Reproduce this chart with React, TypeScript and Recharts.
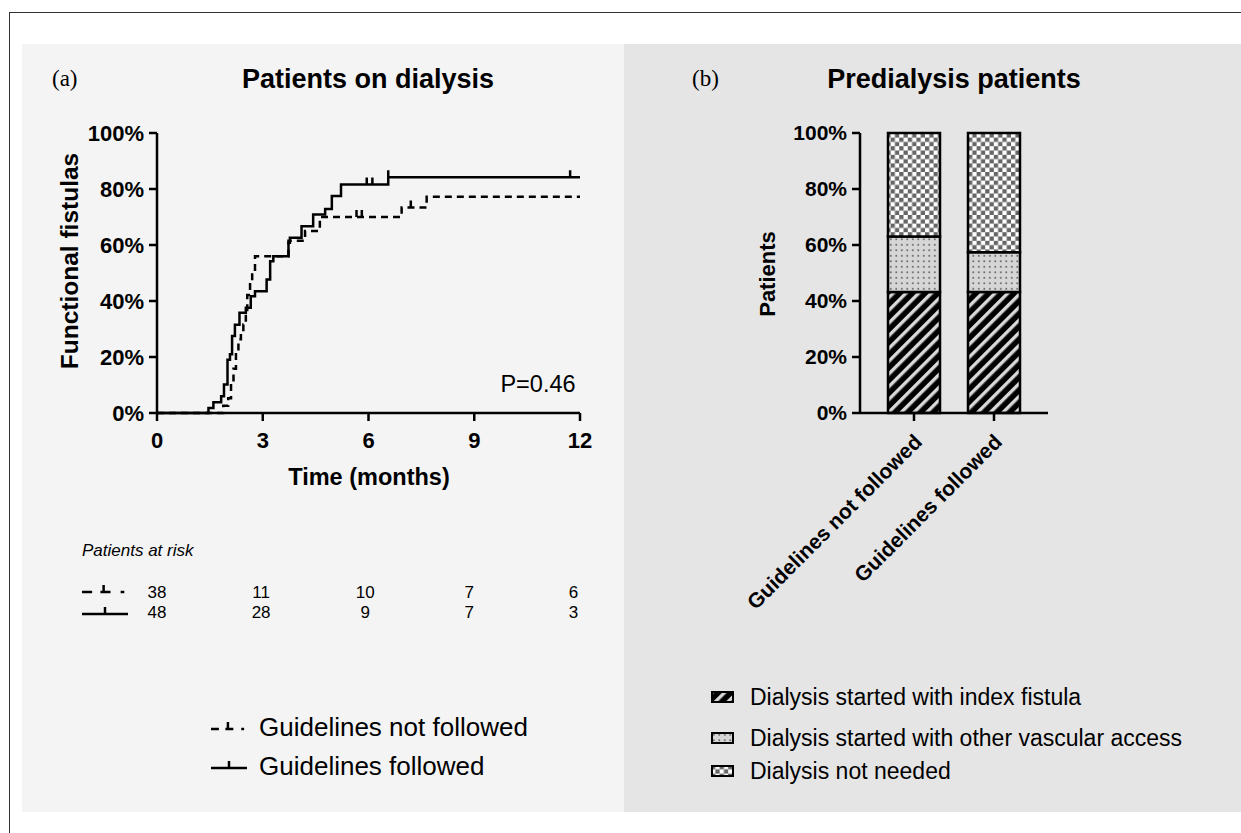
import { LineChart, Line, XAxis, YAxis, BarChart, Bar } from "recharts";

const SANS = '"Liberation Sans", Arial, Helvetica, sans-serif';
const SERIF = '"Liberation Serif", "Times New Roman", serif';

// panel (a): Kaplan-Meier steps (t = months, s = % functional, c = censored)
const followed = [
  { t: 0, s: 0 },
  { t: 1.46, s: 1.8 },
  { t: 1.6, s: 3.8 },
  { t: 1.82, s: 6 },
  { t: 1.9, s: 10.2 },
  { t: 2.0, s: 19 },
  { t: 2.07, s: 21 },
  { t: 2.13, s: 27.5 },
  { t: 2.21, s: 31.5 },
  { t: 2.34, s: 35.8 },
  { t: 2.52, s: 37.6 },
  { t: 2.66, s: 41.7 },
  { t: 2.78, s: 43.5 },
  { t: 3.11, s: 47.7 },
  { t: 3.21, s: 54.2 },
  { t: 3.3, s: 56 },
  { t: 3.73, s: 60.8 },
  { t: 3.77, s: 62.6 },
  { t: 4.1, s: 66.7 },
  { t: 4.43, s: 70.9 },
  { t: 4.77, s: 72.9 },
  { t: 4.96, s: 77.5 },
  { t: 5.22, s: 81.6 },
  { t: 5.95, s: 81.6, c: true },
  { t: 6.11, s: 81.6, c: true },
  { t: 6.56, s: 84.2, c: true },
  { t: 11.72, s: 84.2, c: true },
  { t: 12, s: 84.2 },
];

const notFollowed = [
  { t: 0, s: 0 },
  { t: 1.88, s: 2.6 },
  { t: 2.02, s: 5.3 },
  { t: 2.1, s: 10.5 },
  { t: 2.17, s: 15.8 },
  { t: 2.24, s: 21 },
  { t: 2.31, s: 26.3 },
  { t: 2.38, s: 28.9 },
  { t: 2.45, s: 31.6 },
  { t: 2.52, s: 36.8 },
  { t: 2.56, s: 42.1 },
  { t: 2.64, s: 47.4 },
  { t: 2.7, s: 50 },
  { t: 2.78, s: 56 },
  { t: 3.73, s: 61.5 },
  { t: 4.2, s: 65 },
  { t: 4.62, s: 70 },
  { t: 5.66, s: 70, c: true },
  { t: 5.81, s: 70, c: true },
  { t: 6.94, s: 73.4 },
  { t: 7.2, s: 73.4, c: true },
  { t: 7.65, s: 77.2 },
  { t: 12, s: 77.2 },
];

const monthTicks = [0, 3, 6, 9, 12];
const percentTicks = [0, 20, 40, 60, 80, 100];

const riskTimes = [0, 3, 6, 9, 12];
const riskNotFollowed = [38, 11, 10, 7, 6];
const riskFollowed = [48, 28, 9, 7, 3];

// panel (b)
const categories = ["Guidelines not followed", "Guidelines followed"];
const indexFistula = [43.2, 43.2];
const otherAccess = [19.8, 14.2];
const notNeeded = [37.0, 42.6];

const barData = categories.map((name, i) => ({
  name,
  index: indexFistula[i],
  other: otherAccess[i],
  none: notNeeded[i],
}));

const axisStyle = { stroke: "#000", strokeWidth: 2.5 };
const tickFont = { fill: "#000", fontSize: 21, fontWeight: 700, fontFamily: SANS };
const tickFontA = { ...tickFont, fontSize: 22 };

const censorDot = (props: any) => {
  const { cx, cy, payload, index } = props;
  if (!payload.c) return <g key={index} />;
  return (
    <line key={index} x1={cx} x2={cx} y1={cy} y2={cy - 7} stroke="#000" strokeWidth={2.5} />
  );
};

const RotTick = (props: any) => {
  const { x, y, payload } = props;
  return (
    <g transform={`translate(${x + 4},${y + 15})`}>
      <text transform="rotate(-45)" textAnchor="end" dy="0.35em" style={tickFont}>
        {payload.value}
      </text>
    </g>
  );
};

function Txt(props: {
  x: number;
  y: number;
  size: number;
  bold?: boolean;
  italic?: boolean;
  serif?: boolean;
  anchor?: "left" | "center";
  rotate?: number;
  children: any;
}) {
  const tx = props.anchor === "left" ? "0" : "-50%";
  return (
    <div
      style={{
        position: "absolute",
        left: props.x,
        top: props.y,
        transform: `translate(${tx}, -50%) rotate(${props.rotate || 0}deg)`,
        fontSize: props.size,
        fontWeight: props.bold ? 700 : 400,
        fontStyle: props.italic ? "italic" : "normal",
        fontFamily: props.serif ? SERIF : SANS,
        whiteSpace: "nowrap",
        lineHeight: 1,
        color: "#000",
      }}
    >
      {props.children}
    </div>
  );
}

function LineSym({ x, y, dashed, w }: { x: number; y: number; dashed?: boolean; w: number }) {
  return (
    <svg style={{ position: "absolute", left: x, top: y - 10 }} width={w} height={14}>
      {dashed ? (
        <>
          <line x1={0} x2={w * 0.22} y1={10} y2={10} stroke="#000" strokeWidth={2.5} />
          <line x1={w * 0.4} x2={w * 0.62} y1={10} y2={10} stroke="#000" strokeWidth={2.5} />
          <line x1={w * 0.47} x2={w * 0.47} y1={3} y2={10} stroke="#000" strokeWidth={2.5} />
          <line x1={w * 0.84} x2={w * 0.92} y1={10} y2={10} stroke="#000" strokeWidth={2.5} />
        </>
      ) : (
        <>
          <line x1={0} x2={w} y1={10} y2={10} stroke="#000" strokeWidth={2.5} />
          <line x1={w / 2} x2={w / 2} y1={3} y2={10} stroke="#000" strokeWidth={2.5} />
        </>
      )}
    </svg>
  );
}

function Swatch({ y, fill }: { y: number; fill: string }) {
  return (
    <svg style={{ position: "absolute", left: 711, top: y - 6 }} width={23} height={12}>
      <rect x={1} y={1} width={21} height={10} fill={fill} stroke="#000" strokeWidth={2} />
    </svg>
  );
}

export default function App() {
  const riskX = (t: number) => 157 + t * 34.7;
  return (
    <div
      style={{
        position: "absolute",
        left: 0,
        top: 0,
        width: 1241,
        height: 833,
        background: "#fff",
        overflow: "hidden",
        fontFamily: SANS,
      }}
    >
      <svg width={0} height={0} style={{ position: "absolute" }}>
        <defs>
          <pattern id="hatch" patternUnits="userSpaceOnUse" width={9} height={9} patternTransform="rotate(45)">
            <rect width={9} height={9} fill="#000" />
            <rect x={0} width={3.4} height={9} fill="#d9d9d9" />
          </pattern>
          <pattern id="dots" patternUnits="userSpaceOnUse" width={5.5} height={5.5}>
            <rect width={5.5} height={5.5} fill="#d6d6d6" />
            <rect x={2} y={2} width={1.6} height={1.6} fill="#555" />
          </pattern>
          <pattern id="checker" patternUnits="userSpaceOnUse" width={8.6} height={8.6}>
            <rect width={8.6} height={8.6} fill="#fff" />
            <rect width={4.3} height={4.3} fill="#666" />
            <rect x={4.3} y={4.3} width={4.3} height={4.3} fill="#666" />
          </pattern>
        </defs>
      </svg>

      <div style={{ position: "absolute", left: 9, top: 12, width: 1260, height: 860, border: "1.5px solid #333" }} />
      <div style={{ position: "absolute", left: 22, top: 44, width: 602, height: 768, background: "#f4f4f4" }} />
      <div style={{ position: "absolute", left: 624, top: 44, width: 617, height: 768, background: "#e5e5e5" }} />

      {/* panel (a) */}
      <div style={{ position: "absolute", left: 0, top: 0 }}>
        <LineChart width={620} height={500} margin={{ top: 133, right: 40, bottom: 27, left: 97 }}>
          <XAxis
            type="number"
            dataKey="t"
            domain={[0, 12]}
            ticks={monthTicks}
            allowDataOverflow
            height={60}
            tickSize={8}
            tickMargin={11}
            axisLine={axisStyle}
            tickLine={axisStyle}
            tick={tickFontA}
          />
          <YAxis
            type="number"
            domain={[0, 100]}
            ticks={percentTicks}
            tickFormatter={(v) => `${v}%`}
            width={60}
            tickSize={8}
            tickMargin={5}
            axisLine={axisStyle}
            tickLine={axisStyle}
            tick={tickFontA}
          />
          <Line
            data={notFollowed}
            dataKey="s"
            type="stepAfter"
            stroke="#000"
            strokeWidth={2.5}
            strokeDasharray="7 5"
            dot={censorDot}
            activeDot={false}
            isAnimationActive={false}
          />
          <Line
            data={followed}
            dataKey="s"
            type="stepAfter"
            stroke="#000"
            strokeWidth={2.5}
            dot={censorDot}
            activeDot={false}
            isAnimationActive={false}
          />
        </LineChart>
      </div>

      <Txt x={52} y={78} size={23} serif anchor="left">(a)</Txt>
      <Txt x={368} y={79} size={27} bold>Patients on dialysis</Txt>
      <Txt x={70} y={261} size={24.5} bold rotate={-90}>Functional fistulas</Txt>
      <Txt x={369} y={478} size={23.5} bold>Time (months)</Txt>
      <Txt x={538} y={385} size={23.5}>P=0.46</Txt>

      <Txt x={82} y={550} size={17} italic anchor="left">Patients at risk</Txt>
      <LineSym x={82} y={592} w={46} dashed />
      <LineSym x={82} y={614} w={46} />
      {riskTimes.map((t, i) => (
        <Txt key={"nf" + t} x={riskX(t)} y={592} size={17}>{riskNotFollowed[i]}</Txt>
      ))}
      {riskTimes.map((t, i) => (
        <Txt key={"f" + t} x={riskX(t)} y={612} size={17}>{riskFollowed[i]}</Txt>
      ))}

      <LineSym x={211} y={729} w={36} dashed />
      <Txt x={259} y={727} size={26} anchor="left">Guidelines not followed</Txt>
      <LineSym x={211} y={768} w={36} />
      <Txt x={259} y={766} size={26} anchor="left">Guidelines followed</Txt>

      {/* panel (b) */}
      <div style={{ position: "absolute", left: 624, top: 0 }}>
        <BarChart width={600} height={640} data={barData} margin={{ top: 133, right: 176, bottom: 27, left: 166 }}>
          <XAxis
            dataKey="name"
            interval={0}
            height={200}
            padding={{ left: 14, right: 14 }}
            tickSize={8}
            axisLine={axisStyle}
            tickLine={axisStyle}
            tick={<RotTick />}
          />
          <YAxis
            type="number"
            domain={[0, 100]}
            ticks={percentTicks}
            tickFormatter={(v) => `${v}%`}
            width={70}
            tickSize={8}
            tickMargin={5}
            axisLine={axisStyle}
            tickLine={axisStyle}
            tick={tickFont}
          />
          <Bar dataKey="index" stackId="a" barSize={52} fill="url(#hatch)" stroke="#000" strokeWidth={2.5} isAnimationActive={false} />
          <Bar dataKey="other" stackId="a" barSize={52} fill="url(#dots)" stroke="#000" strokeWidth={2.5} isAnimationActive={false} />
          <Bar dataKey="none" stackId="a" barSize={52} fill="url(#checker)" stroke="#000" strokeWidth={2.5} isAnimationActive={false} />
        </BarChart>
      </div>

      <Txt x={692} y={78} size={23} serif anchor="left">(b)</Txt>
      <Txt x={954} y={79} size={27} bold>Predialysis patients</Txt>
      <Txt x={768} y={274} size={22} bold rotate={-90}>Patients</Txt>

      <Swatch y={697} fill="url(#hatch)" />
      <Txt x={750} y={697} size={23} anchor="left">Dialysis started with index fistula</Txt>
      <Swatch y={738} fill="url(#dots)" />
      <Txt x={750} y={738} size={23} anchor="left">Dialysis started with other vascular access</Txt>
      <Swatch y={771} fill="url(#checker)" />
      <Txt x={750} y={771} size={23} anchor="left">Dialysis not needed</Txt>
    </div>
  );
}
